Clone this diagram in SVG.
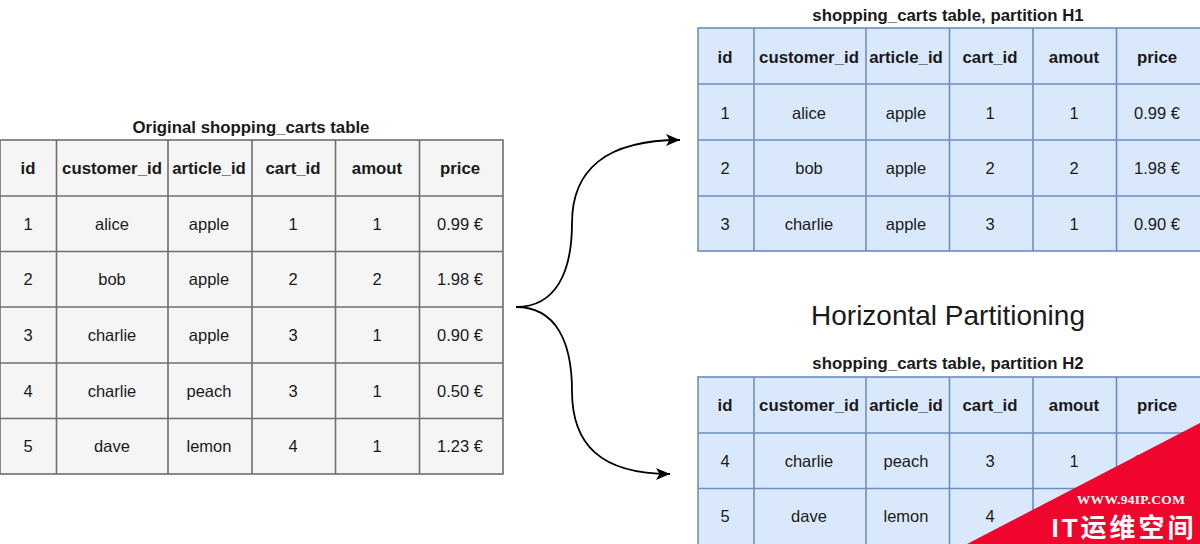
<svg xmlns="http://www.w3.org/2000/svg" width="1200" height="544" viewBox="0 0 1200 544">
<style>
text{font-family:"Liberation Sans",Arial,sans-serif;font-size:16.500px;fill:#1a1a1a;text-anchor:middle}
.b{font-weight:bold;font-size:16.800px}
.g rect,.g line{stroke:#6f6f6f;stroke-width:1.600}
.g rect{fill:#f5f5f5}
.p rect,.p line{stroke:#6c8ebf;stroke-width:1.600}
.p rect{fill:#dae8fc}
.c{fill:none;stroke:#000;stroke-width:1.800}
</style>
<defs><marker id="a" markerUnits="userSpaceOnUse" markerWidth="16" markerHeight="16" refX="14" refY="8" orient="auto"><path d="M0 2L14 8 0 14 3.500 8z" fill="#000"/></marker></defs>
<rect width="1200" height="544" fill="#fff"/>
<g id="connectors">
<path class="c" marker-end="url(#a)" d="M516 307C556 307 572 272 572 223C572 170 606 140 680 140"/>
<path class="c" marker-end="url(#a)" d="M516 307C556 307 572 342 572 391C572 444 600 474 670 474"/>
</g>
<g id="original" class="g">
<text class="b" x="251" y="132.500">Original shopping_carts table</text>
<rect x="0" y="140" width="503" height="334"/>
<line x1="56.500" y1="140" x2="56.500" y2="474"/><line x1="168" y1="140" x2="168" y2="474"/><line x1="252" y1="140" x2="252" y2="474"/><line x1="335.500" y1="140" x2="335.500" y2="474"/><line x1="419.500" y1="140" x2="419.500" y2="474"/>
<line x1="0" y1="196" x2="503" y2="196"/><line x1="0" y1="251.500" x2="503" y2="251.500"/><line x1="0" y1="307" x2="503" y2="307"/><line x1="0" y1="363" x2="503" y2="363"/><line x1="0" y1="418.500" x2="503" y2="418.500"/>
<text class="b" x="28" y="174">id</text><text class="b" x="112" y="174">customer_id</text><text class="b" x="209" y="174">article_id</text><text class="b" x="293" y="174">cart_id</text><text class="b" x="377" y="174">amout</text><text class="b" x="460" y="174">price</text>
<text x="28" y="230">1</text><text x="112" y="230">alice</text><text x="209" y="230">apple</text><text x="293" y="230">1</text><text x="377" y="230">1</text><text x="460" y="230">0.99 €</text>
<text x="28" y="285">2</text><text x="112" y="285">bob</text><text x="209" y="285">apple</text><text x="293" y="285">2</text><text x="377" y="285">2</text><text x="460" y="285">1.98 €</text>
<text x="28" y="341">3</text><text x="112" y="341">charlie</text><text x="209" y="341">apple</text><text x="293" y="341">3</text><text x="377" y="341">1</text><text x="460" y="341">0.90 €</text>
<text x="28" y="397">4</text><text x="112" y="397">charlie</text><text x="209" y="397">peach</text><text x="293" y="397">3</text><text x="377" y="397">1</text><text x="460" y="397">0.50 €</text>
<text x="28" y="452">5</text><text x="112" y="452">dave</text><text x="209" y="452">lemon</text><text x="293" y="452">4</text><text x="377" y="452">1</text><text x="460" y="452">1.23 €</text>
</g>
<g id="partition-h1" class="p">
<text class="b" x="948" y="21">shopping_carts table, partition H1</text>
<rect x="698" y="28" width="503" height="223"/>
<line x1="754" y1="28" x2="754" y2="251"/><line x1="866" y1="28" x2="866" y2="251"/><line x1="949.500" y1="28" x2="949.500" y2="251"/><line x1="1033" y1="28" x2="1033" y2="251"/><line x1="1116.500" y1="28" x2="1116.500" y2="251"/>
<line x1="698" y1="84" x2="1200" y2="84"/><line x1="698" y1="140" x2="1200" y2="140"/><line x1="698" y1="196" x2="1200" y2="196"/>
<text class="b" x="725" y="63">id</text><text class="b" x="809" y="63">customer_id</text><text class="b" x="906" y="63">article_id</text><text class="b" x="990" y="63">cart_id</text><text class="b" x="1074" y="63">amout</text><text class="b" x="1157" y="63">price</text>
<text x="725" y="118.500">1</text><text x="809" y="118.500">alice</text><text x="906" y="118.500">apple</text><text x="990" y="118.500">1</text><text x="1074" y="118.500">1</text><text x="1157" y="118.500">0.99 €</text>
<text x="725" y="174">2</text><text x="809" y="174">bob</text><text x="906" y="174">apple</text><text x="990" y="174">2</text><text x="1074" y="174">2</text><text x="1157" y="174">1.98 €</text>
<text x="725" y="229.500">3</text><text x="809" y="229.500">charlie</text><text x="906" y="229.500">apple</text><text x="990" y="229.500">3</text><text x="1074" y="229.500">1</text><text x="1157" y="229.500">0.90 €</text>
</g>
<g id="title"><text x="948" y="325" style="font-size:28px">Horizontal Partitioning</text></g>
<g id="partition-h2" class="p">
<text class="b" x="948" y="369">shopping_carts table, partition H2</text>
<rect x="698" y="377" width="503" height="168"/>
<line x1="754" y1="377" x2="754" y2="544"/><line x1="866" y1="377" x2="866" y2="544"/><line x1="949.500" y1="377" x2="949.500" y2="544"/><line x1="1033" y1="377" x2="1033" y2="544"/><line x1="1116.500" y1="377" x2="1116.500" y2="544"/>
<line x1="698" y1="433" x2="1200" y2="433"/><line x1="698" y1="488.500" x2="1200" y2="488.500"/>
<text class="b" x="725" y="411">id</text><text class="b" x="809" y="411">customer_id</text><text class="b" x="906" y="411">article_id</text><text class="b" x="990" y="411">cart_id</text><text class="b" x="1074" y="411">amout</text><text class="b" x="1157" y="411">price</text>
<text x="725" y="466.500">4</text><text x="809" y="466.500">charlie</text><text x="906" y="466.500">peach</text><text x="990" y="466.500">3</text><text x="1074" y="466.500">1</text><text x="1157" y="466.500">0.50 €</text>
<text x="725" y="522">5</text><text x="809" y="522">dave</text><text x="906" y="522">lemon</text><text x="990" y="522">4</text>
</g>
<g id="watermark">
<polygon points="1200,423 1200,544 967,544" fill="#f0062c"/>
<text x="1131" y="504" style="font-family:'Liberation Serif',serif;font-size:13.500px;font-weight:bold;fill:#fff;letter-spacing:.3px">WWW.94IP.COM</text>
<text x="1124" y="537" style="font-family:'Liberation Sans','Noto Sans CJK SC',sans-serif;font-size:26px;font-weight:bold;fill:#fff;letter-spacing:3px">IT运维空间</text>
</g>
</svg>
